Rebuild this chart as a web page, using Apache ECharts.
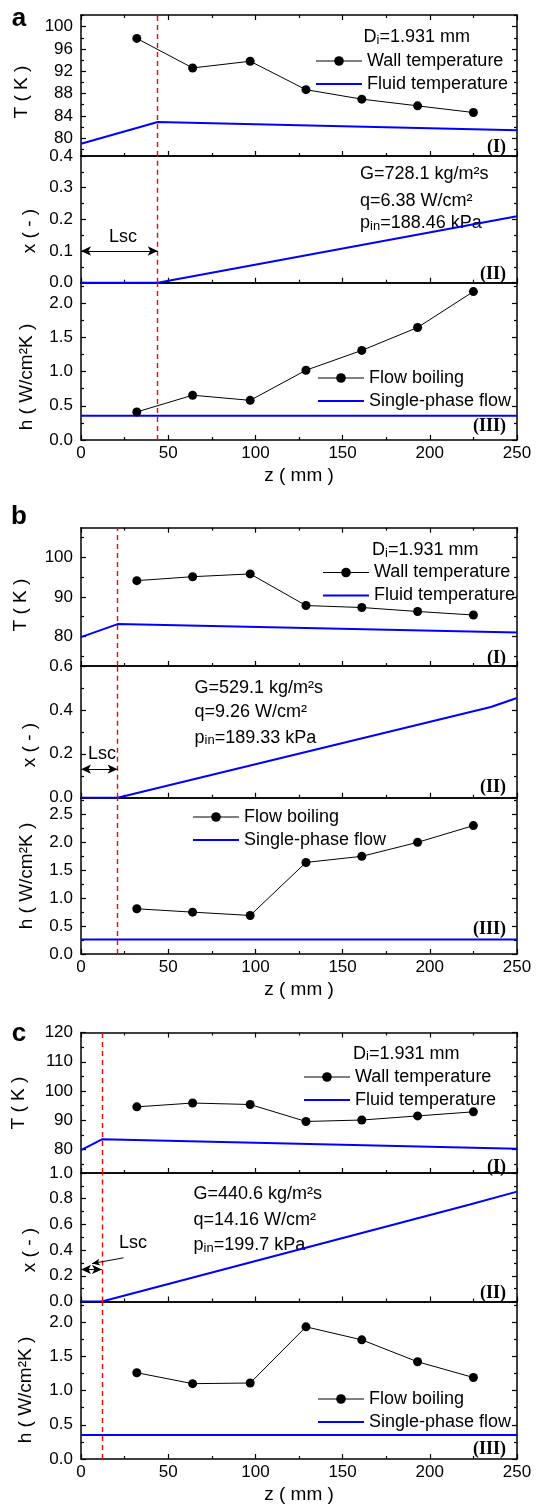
<!DOCTYPE html>
<html>
<head>
<meta charset="utf-8">
<title>Flow boiling profiles</title>
<script src="https://cdn.jsdelivr.net/npm/echarts@6/dist/echarts.min.js"></script>
<style>
  html, body { margin: 0; padding: 0; background: #fff; }
  #chart { width: 536px; height: 1507px; }
</style>
</head>
<body>
<div id="chart"></div>
<script>
// thermocouple positions along the tube (mm)
const zPoints = [32, 64, 97, 129, 161, 193, 225];
const zTicks = [0, 50, 100, 150, 200, 250];
// subcooled length per case (mm)
const lscZ = [44, 21, 12];
const lscArrowX = [0.1, 0.13, 0.25];

// case a
const wallA = [97.9, 92.6, 93.8, 88.7, 87.0, 85.8, 84.6];
const fluidZA = [0, 44, 250];
const fluidA = [79.0, 82.9, 81.4];
const qualZA = [0, 44, 250];
const qualA = [0, 0, 0.21];
const boilA = [0.41, 0.655, 0.58, 1.02, 1.31, 1.645, 2.17];
const singleA = 0.355;

// case b
const wallB = [94.1, 95.1, 95.8, 87.8, 87.3, 86.3, 85.4];
const fluidZB = [0, 21, 250];
const fluidB = [79.8, 83.1, 81.0];
const qualZB = [0, 21, 235, 250];
const qualB = [0, 0, 0.413, 0.454];
const boilB = [0.81, 0.75, 0.69, 1.64, 1.75, 2.00, 2.30];
const singleB = 0.26;

// case c
const wallC = [94.6, 95.9, 95.4, 89.6, 90.1, 91.5, 92.9];
const fluidZC = [0, 12, 250];
const fluidC = [79.8, 83.5, 80.3];
const qualZC = [0, 12, 223, 250];
const qualC = [0, 0, 0.755, 0.855];
const boilC = [1.26, 1.10, 1.11, 1.93, 1.74, 1.42, 1.19];
const singleC = 0.35;

// axis ranges and tick labels
const tRange = [[76.8, 102.1], [72.5, 107.5], [72, 120]];
const tTicks = [[80, 84, 88, 92, 96, 100], [80, 90, 100], [80, 90, 100, 110, 120]];
const tMinor = [[78, 82, 86, 90, 94, 98, 102], [75, 85, 95, 105], [75, 85, 95, 105, 115]];
const xRange = [[0, 0.4], [0, 0.6], [0, 1.0]];
const xTicks = [[0, 0.1, 0.2, 0.3, 0.4], [0, 0.2, 0.4, 0.6], [0, 0.2, 0.4, 0.6, 0.8, 1.0]];
const xMinor = [[0.05, 0.15, 0.25, 0.35], [0.1, 0.3, 0.5], [0.1, 0.3, 0.5, 0.7, 0.9]];
const hRange = [[0, 2.3], [0, 2.8], [0, 2.3]];
const hTicks = [[0, 0.5, 1, 1.5, 2], [0, 0.5, 1, 1.5, 2, 2.5], [0, 0.5, 1, 1.5, 2]];
const hMinor = [[0.25, 0.75, 1.25, 1.75, 2.25], [0.25, 0.75, 1.25, 1.75, 2.25, 2.75], [0.25, 0.75, 1.25, 1.75, 2.25]];

const caseLetters = ['a', 'b', 'c'];
const conditions = [
  ['G=728.1 kg/m²s', 'q=6.38 W/cm²', 'p{s|in}=188.46 kPa'],
  ['G=529.1 kg/m²s', 'q=9.26 W/cm²', 'p{s|in}=189.33 kPa'],
  ['G=440.6 kg/m²s', 'q=14.16 W/cm²', 'p{s|in}=199.7 kPa']
];

// layout (px)
const panelTop = [15, 156, 282.7, 527.7, 666, 797.7, 1032.5, 1173, 1301.5];
const panelBottom = [156, 282.7, 440, 666, 797.7, 954, 1173, 1301.5, 1459];
const diPos = [[363.5, 37.5], [372, 550.5], [353, 1054.4]];
const condPos = [[360, [174, 201.4, 223.5]], [194.5, [687.7, 711.6, 737.9]], [193.5, [1194.3, 1219.9, 1245.5]]];
const legendTPos = [[315, 50], [322, 561.5], [303, 1066]];
const legendHPos = [[317, 367], [192, 806], [317, 1388]];
const lscTextPos = [[123, 237], [102, 754], [133, 1243]];
const romanY = [[147.4, 274.1, 426], [658.7, 787.3, 929], [1167, 1293, 1449]];
const letterY = [19, 517, 1034];
const yNamePos = [
  [[22, 92], [30, 231], [27, 377]],
  [[21, 605], [30, 745], [27, 876]],
  [[19, 1103], [30, 1250], [26, 1390]]
];

const fontSans = '"Liberation Sans", Arial, sans-serif';
const black = '#000';
const blue = '#0000ff';
const red = '#ff0000';

const chart = echarts.init(document.getElementById('chart'));

const grids = [];
const xAxes = [];
const yAxes = [];
const series = [];
const legends = [];
const graphics = [];

function zip(xs, ys) {
  return xs.map((x, i) => [x, ys[i]]);
}

function addXAxes(g, withLabels, topTicks) {
  const idx = xAxes.length;
  const tickStyle = { color: black, width: 1.2 };
  xAxes.push({
    gridIndex: g, type: 'value', min: 0, max: 250, interval: 50, position: 'bottom',
    axisLine: { onZero: false, lineStyle: { color: black, width: 1.5 } },
    axisTick: { inside: true, length: 5, lineStyle: tickStyle },
    minorTick: { show: true, splitNumber: 2, length: 3, lineStyle: tickStyle },
    splitLine: { show: false },
    minorSplitLine: { show: false },
    axisLabel: {
      show: withLabels, margin: 5, color: black, fontSize: 17, fontFamily: fontSans,
      formatter: v => (zTicks.indexOf(v) >= 0 ? String(v) : '')
    },
    name: withLabels ? 'z ( mm )' : '',
    nameLocation: 'middle',
    nameGap: 26,
    nameTextStyle: { color: black, fontSize: 19, fontFamily: fontSans }
  });
  xAxes.push({
    gridIndex: g, type: 'value', min: 0, max: 250, interval: 50, position: 'top',
    axisLine: { onZero: false, lineStyle: { color: black, width: 1.5 } },
    axisTick: { show: topTicks, inside: true, length: 5, lineStyle: tickStyle },
    minorTick: { show: topTicks, splitNumber: 2, length: 3, lineStyle: tickStyle },
    splitLine: { show: false },
    axisLabel: { show: false }
  });
  return idx;
}

function addYAxes(g, range, ticks, minors, digits) {
  const idx = yAxes.length;
  const tickStyle = { color: black, width: 1.2 };
  const base = { gridIndex: g, type: 'value', min: range[0], max: range[1], splitLine: { show: false } };
  yAxes.push(Object.assign({}, base, {
    position: 'left',
    axisLine: { show: true, onZero: false, lineStyle: { color: black, width: 1.5 } },
    axisTick: { show: true, inside: true, length: 5, customValues: ticks, lineStyle: tickStyle },
    axisLabel: {
      show: true, customValues: ticks, margin: 8, color: black, fontSize: 17, fontFamily: fontSans,
      formatter: v => Number(v).toFixed(digits)
    }
  }));
  yAxes.push(Object.assign({}, base, {
    position: 'left',
    axisLine: { show: false, onZero: false },
    axisTick: { show: true, inside: true, length: 3, customValues: minors, lineStyle: tickStyle },
    axisLabel: { show: false }
  }));
  yAxes.push(Object.assign({}, base, {
    position: 'right',
    axisLine: { show: true, onZero: false, lineStyle: { color: black, width: 1.5 } },
    axisTick: { show: true, inside: true, length: 5, customValues: ticks, lineStyle: tickStyle },
    axisLabel: { show: false }
  }));
  yAxes.push(Object.assign({}, base, {
    position: 'right',
    axisLine: { show: false, onZero: false },
    axisTick: { show: true, inside: true, length: 3, customValues: minors, lineStyle: tickStyle },
    axisLabel: { show: false }
  }));
  return idx;
}

function lscLine(k) {
  return { xAxis: lscZ[k] };
}

function addText(text, x, y, opts) {
  graphics.push({
    type: 'text',
    x: x, y: y,
    rotation: (opts && opts.rotation) || 0,
    silent: true,
    style: Object.assign({
      text: text,
      fill: black,
      font: '18px ' + fontSans,
      align: 'left',
      verticalAlign: 'middle',
      rich: {
        s: { fontSize: 13, fontFamily: fontSans, lineHeight: 12, verticalAlign: 'bottom', fill: black }
      }
    }, opts && opts.style)
  });
}

const walls = [wallA, wallB, wallC];
const fluidZs = [fluidZA, fluidZB, fluidZC];
const fluids = [fluidA, fluidB, fluidC];
const qualZs = [qualZA, qualZB, qualZC];
const quals = [qualA, qualB, qualC];
const boils = [boilA, boilB, boilC];
const singles = [singleA, singleB, singleC];

const redDash = { color: red, type: [5, 4], width: 1.4 };

for (let k = 0; k < 3; k++) {
  for (let p = 0; p < 3; p++) {
    const g = k * 3 + p;
    grids.push({
      left: 81, right: 19, top: panelTop[g], height: panelBottom[g] - panelTop[g],
      containLabel: false, outerBoundsMode: 'none', show: false
    });
  }

  // (I) temperature
  const g0 = k * 3;
  const x0 = addXAxes(g0, false, true);
  const y0 = addYAxes(g0, tRange[k], tTicks[k], tMinor[k], 0);
  series.push({
    name: 'Wall temperature', type: 'line', xAxisIndex: x0, yAxisIndex: y0,
    data: zip(zPoints, walls[k]),
    symbol: 'circle', symbolSize: 9,
    lineStyle: { color: black, width: 1 },
    itemStyle: { color: black },
    z: 4
  });
  series.push({
    name: 'Fluid temperature', type: 'line', xAxisIndex: x0, yAxisIndex: y0,
    data: zip(fluidZs[k], fluids[k]),
    symbol: 'none',
    lineStyle: { color: blue, width: 2 },
    itemStyle: { color: blue },
    markLine: { silent: true, symbol: 'none', label: { show: false }, lineStyle: redDash, data: [lscLine(k)] },
    z: 3
  });

  // (II) vapour quality
  const g1 = k * 3 + 1;
  const x1 = addXAxes(g1, false, false);
  const y1 = addYAxes(g1, xRange[k], xTicks[k], xMinor[k], 1);
  const qualMarks = [
    lscLine(k),
    [
      { coord: [0, lscArrowX[k]], symbol: 'arrow', symbolSize: [7, 10], lineStyle: { color: black, type: 'solid', width: 1 } },
      { coord: [lscZ[k], lscArrowX[k]], symbol: 'arrow', symbolSize: [7, 10] }
    ]
  ];
  if (k === 2) {
    qualMarks.push([
      { coord: [24.4, 0.34], symbol: 'none', lineStyle: { color: black, type: 'solid', width: 1 } },
      { coord: [6.3, 0.295], symbol: 'arrow', symbolSize: [5, 8] }
    ]);
  }
  series.push({
    name: 'Vapour quality', type: 'line', xAxisIndex: x1, yAxisIndex: y1,
    data: zip(qualZs[k], quals[k]),
    symbol: 'none',
    lineStyle: { color: blue, width: 2 },
    itemStyle: { color: blue },
    markLine: { silent: true, symbol: 'none', label: { show: false }, lineStyle: redDash, data: qualMarks }
  });

  // (III) heat transfer coefficient
  const g2 = k * 3 + 2;
  const x2 = addXAxes(g2, true, false);
  const y2 = addYAxes(g2, hRange[k], hTicks[k], hMinor[k], 1);
  series.push({
    name: 'Flow boiling', type: 'line', xAxisIndex: x2, yAxisIndex: y2,
    data: zip(zPoints, boils[k]),
    symbol: 'circle', symbolSize: 9,
    lineStyle: { color: black, width: 1 },
    itemStyle: { color: black },
    z: 4
  });
  series.push({
    name: 'Single-phase flow', type: 'line', xAxisIndex: x2, yAxisIndex: y2,
    data: [[0, singles[k]], [250, singles[k]]],
    symbol: 'none',
    lineStyle: { color: blue, width: 2 },
    itemStyle: { color: blue },
    markLine: { silent: true, symbol: 'none', label: { show: false }, lineStyle: redDash, data: [lscLine(k)] },
    z: 3
  });

  const legendBase = {
    orient: 'vertical', padding: 0, itemWidth: 46, itemHeight: 12, itemGap: 1,
    selectedMode: false,
    textStyle: { color: black, fontSize: 18, fontFamily: fontSans, lineHeight: 22 }
  };
  legends.push(Object.assign({}, legendBase, {
    left: legendTPos[k][0], top: legendTPos[k][1],
    data: [
      { name: 'Wall temperature', lineStyle: { width: 1 } },
      { name: 'Fluid temperature', itemStyle: { opacity: 0 }, lineStyle: { width: 2 } }
    ]
  }));
  legends.push(Object.assign({}, legendBase, {
    left: legendHPos[k][0], top: legendHPos[k][1],
    data: [
      { name: 'Flow boiling', lineStyle: { width: 1 } },
      { name: 'Single-phase flow', itemStyle: { opacity: 0 }, lineStyle: { width: 2 } }
    ]
  }));

  // annotations
  addText(caseLetters[k], 19, letterY[k], { style: { font: 'bold 26px ' + fontSans, align: 'center' } });
  addText('D{s|i}=1.931 mm', diPos[k][0], diPos[k][1]);
  conditions[k].forEach((t, i) => addText(t, condPos[k][0], condPos[k][1][i]));
  addText('Lsc', lscTextPos[k][0], lscTextPos[k][1], { style: { align: 'center' } });
  ['(I)', '(II)', '(III)'].forEach((t, i) =>
    addText(t, 506, romanY[k][i], { style: { font: 'bold 18px "Liberation Serif", "Times New Roman", serif', align: 'right' } })
  );
  ['T ( K )', 'x ( - )', 'h ( W/cm²K )'].forEach((t, i) =>
    addText(t, yNamePos[k][i][0], yNamePos[k][i][1], {
      rotation: Math.PI / 2,
      style: { font: '19px ' + fontSans, align: 'center' }
    })
  );
}

chart.setOption({
  animation: false,
  backgroundColor: '#fff',
  grid: grids,
  xAxis: xAxes,
  yAxis: yAxes,
  legend: legends,
  series: series,
  graphic: graphics
});
</script>
</body>
</html>
